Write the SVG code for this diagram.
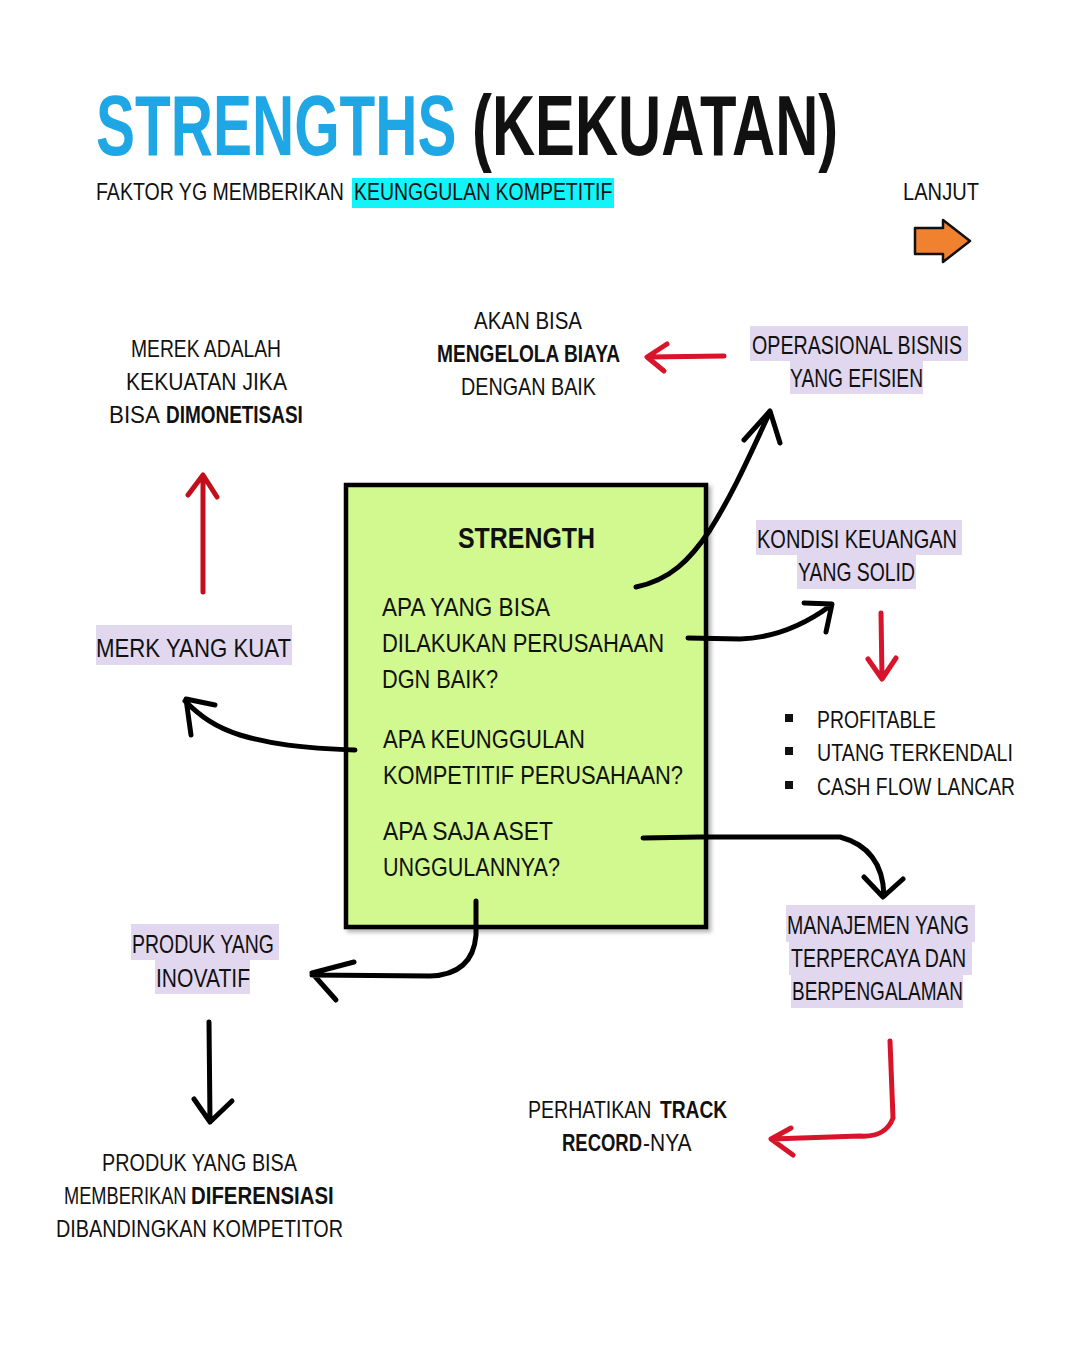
<svg xmlns="http://www.w3.org/2000/svg" width="1080" height="1349" viewBox="0 0 1080 1349">
<defs>
<style>
text{font-family:"Liberation Sans","DejaVu Sans",sans-serif;fill:#111;}
.t{font-size:24px;}
.m{font-size:26px;}
.b{font-weight:bold;}
.hl{fill:#e1d7ef;}
.bk{fill:none;stroke:#000;stroke-width:5;stroke-linecap:round;stroke-linejoin:round;}
.rd{fill:none;stroke:#d8142b;stroke-width:5;stroke-linecap:round;stroke-linejoin:round;}
.rd2{fill:none;stroke:#c30f1c;stroke-width:5;stroke-linecap:round;stroke-linejoin:round;}
</style>
<filter id="sh" x="-5%" y="-5%" width="115%" height="115%"><feDropShadow dx="3" dy="3" stdDeviation="2" flood-color="#000" flood-opacity="0.3"/></filter>
</defs>
<rect width="1080" height="1349" fill="#fff"/>

<g id="title">
<text transform="translate(96,155) scale(0.68,1)" x="0" y="0" font-size="86" font-weight="bold" style="fill:#1ea7e4">STRENGTHS</text>
<text transform="translate(472,155) scale(0.695,1)" x="0" y="0" font-size="86" font-weight="bold">(KEKUATAN)</text>
<rect x="352" y="178" width="262" height="30" fill="#14f4f8"/>
<text transform="translate(96,200) scale(0.85,1)" x="0" y="0" font-size="23">FAKTOR YG MEMBERIKAN</text>
<text transform="translate(354,200) scale(0.846,1)" x="0" y="0" font-size="23">KEUNGGULAN KOMPETITIF</text>
</g>

<g id="lanjut">
<text x="903" y="200" font-size="23" textLength="76" lengthAdjust="spacingAndGlyphs">LANJUT</text>
<path d="M915,228 L943,228 L943,220 L970,241 L943,262 L943,254 L915,254 Z" fill="#f0812e" stroke="#111" stroke-width="2.5" stroke-linejoin="round"/>
</g>

<g id="strength-box">
<rect x="346" y="485" width="360" height="442" fill="#d2f98f" stroke="#000" stroke-width="4.5" filter="url(#sh)"/>
<text x="458" y="548" font-size="29" class="b" textLength="137" lengthAdjust="spacingAndGlyphs">STRENGTH</text>
<text x="382" y="616" class="m" textLength="168" lengthAdjust="spacingAndGlyphs">APA YANG BISA</text>
<text x="382" y="652" class="m" textLength="282" lengthAdjust="spacingAndGlyphs">DILAKUKAN PERUSAHAAN</text>
<text x="382" y="688" class="m" textLength="116" lengthAdjust="spacingAndGlyphs">DGN BAIK?</text>
<text x="383" y="748" class="m" textLength="202" lengthAdjust="spacingAndGlyphs">APA KEUNGGULAN</text>
<text x="383" y="784" class="m" textLength="300" lengthAdjust="spacingAndGlyphs">KOMPETITIF PERUSAHAAN?</text>
<text x="383" y="840" class="m" textLength="170" lengthAdjust="spacingAndGlyphs">APA SAJA ASET</text>
<text x="383" y="876" class="m" textLength="177" lengthAdjust="spacingAndGlyphs">UNGGULANNYA?</text>
</g>

<g id="merek-note">
<text x="131" y="357" class="t" textLength="150" lengthAdjust="spacingAndGlyphs">MEREK ADALAH</text>
<text x="126" y="390" class="t" textLength="161" lengthAdjust="spacingAndGlyphs">KEKUATAN JIKA</text>
<text transform="translate(109,423) scale(0.93,1)" x="0" y="0" class="t">BISA</text>
<text transform="translate(166,423) scale(0.79,1)" x="0" y="0" class="t b">DIMONETISASI</text>
</g>

<g id="biaya-note">
<text x="474" y="329" class="t" textLength="108" lengthAdjust="spacingAndGlyphs">AKAN BISA</text>
<text x="437" y="362" class="t b" textLength="183" lengthAdjust="spacingAndGlyphs">MENGELOLA BIAYA</text>
<text x="461" y="395" class="t" textLength="135" lengthAdjust="spacingAndGlyphs">DENGAN BAIK</text>
</g>

<g id="operasional">
<rect x="750" y="326" width="218" height="35" class="hl"/>
<rect x="790" y="361" width="133" height="33" class="hl"/>
<text x="752" y="354" class="m" textLength="210" lengthAdjust="spacingAndGlyphs">OPERASIONAL BISNIS</text>
<text x="790" y="387" class="m" textLength="133" lengthAdjust="spacingAndGlyphs">YANG EFISIEN</text>
</g>

<g id="keuangan">
<rect x="756" y="520" width="206" height="35" class="hl"/>
<rect x="797" y="555" width="119" height="34" class="hl"/>
<text x="757" y="548" class="m" textLength="200" lengthAdjust="spacingAndGlyphs">KONDISI KEUANGAN</text>
<text x="798" y="581" class="m" textLength="117" lengthAdjust="spacingAndGlyphs">YANG SOLID</text>
</g>

<g id="bullets">
<rect x="785" y="714" width="8" height="8" fill="#111"/>
<rect x="785" y="747" width="8" height="8" fill="#111"/>
<rect x="785" y="781" width="8" height="8" fill="#111"/>
<text x="817" y="728" class="t" textLength="119" lengthAdjust="spacingAndGlyphs">PROFITABLE</text>
<text x="817" y="761" class="t" textLength="196" lengthAdjust="spacingAndGlyphs">UTANG TERKENDALI</text>
<text x="817" y="795" class="t" textLength="198" lengthAdjust="spacingAndGlyphs">CASH FLOW LANCAR</text>
</g>

<g id="merk">
<rect x="96" y="625" width="196" height="40" class="hl"/>
<text x="96" y="657" class="m" textLength="195" lengthAdjust="spacingAndGlyphs">MERK YANG KUAT</text>
</g>

<g id="manajemen">
<rect x="786" y="905" width="189" height="37" class="hl"/>
<rect x="789" y="942" width="183" height="33" class="hl"/>
<rect x="791" y="975" width="172" height="33" class="hl"/>
<text x="787" y="934" class="m" textLength="182" lengthAdjust="spacingAndGlyphs">MANAJEMEN YANG</text>
<text x="791" y="967" class="m" textLength="175" lengthAdjust="spacingAndGlyphs">TERPERCAYA DAN</text>
<text x="792" y="1000" class="m" textLength="171" lengthAdjust="spacingAndGlyphs">BERPENGALAMAN</text>
</g>

<g id="track">
<text transform="translate(528,1118) scale(0.815,1)" x="0" y="0" class="t">PERHATIKAN</text>
<text transform="translate(660,1118) scale(0.8,1)" x="0" y="0" class="t b">TRACK</text>
<text transform="translate(562,1151) scale(0.77,1)" x="0" y="0" class="t b">RECORD</text>
<text transform="translate(643,1151) scale(0.875,1)" x="0" y="0" class="t">-NYA</text>
</g>

<g id="produk">
<rect x="131" y="924" width="148" height="36" class="hl"/>
<rect x="155" y="960" width="95" height="34" class="hl"/>
<text x="132" y="953" class="m" textLength="142" lengthAdjust="spacingAndGlyphs">PRODUK YANG</text>
<text x="156" y="987" class="m" textLength="94" lengthAdjust="spacingAndGlyphs">INOVATIF</text>
</g>

<g id="diferensiasi">
<text x="102" y="1171" class="t" textLength="195" lengthAdjust="spacingAndGlyphs">PRODUK YANG BISA</text>
<text transform="translate(64,1204) scale(0.76,1)" x="0" y="0" class="t">MEMBERIKAN</text>
<text transform="translate(191,1204) scale(0.85,1)" x="0" y="0" class="t b">DIFERENSIASI</text>
<text x="56" y="1237" class="t" textLength="287" lengthAdjust="spacingAndGlyphs">DIBANDINGKAN KOMPETITOR</text>
</g>

<g id="connectors">
<path class="rd" d="M724,356 L648,357 M667,344 L647,357 L664,371"/>
<path class="bk" d="M636,587 C670,580 690,560 710,530 C735,490 752,450 770,412 M744,440 L770,411 L780,443"/>
<path class="bk" d="M688,638 L740,639 C770,638 800,628 830,606 M804,603 L832,604 L826,632"/>
<path class="rd" d="M881,613 L882,678 M868,659 L882,679 L896,658"/>
<path class="bk" d="M643,838 L700,837 L840,837 C870,845 883,865 884,895 M864,877 L883,897 L903,879"/>
<path class="rd" d="M890,1041 L893,1118 C888,1132 875,1137 860,1136 L772,1139 M791,1128 L771,1139 L793,1155"/>
<path class="bk" d="M476,901 L476,935 C474,960 460,975 430,976 L312,975 M354,962 L312,973 L336,1000"/>
<path class="bk" d="M209,1022 L210,1122 M194,1099 L210,1122 L232,1101"/>
<path class="bk" d="M355,750 C300,748 270,744 240,735 C215,727 200,716 185,701 M215,705 L186,699 L191,735"/>
<path class="rd2" d="M203,592 L203,476 M188,495 L203,475 L217,497"/>
</g>
</svg>
